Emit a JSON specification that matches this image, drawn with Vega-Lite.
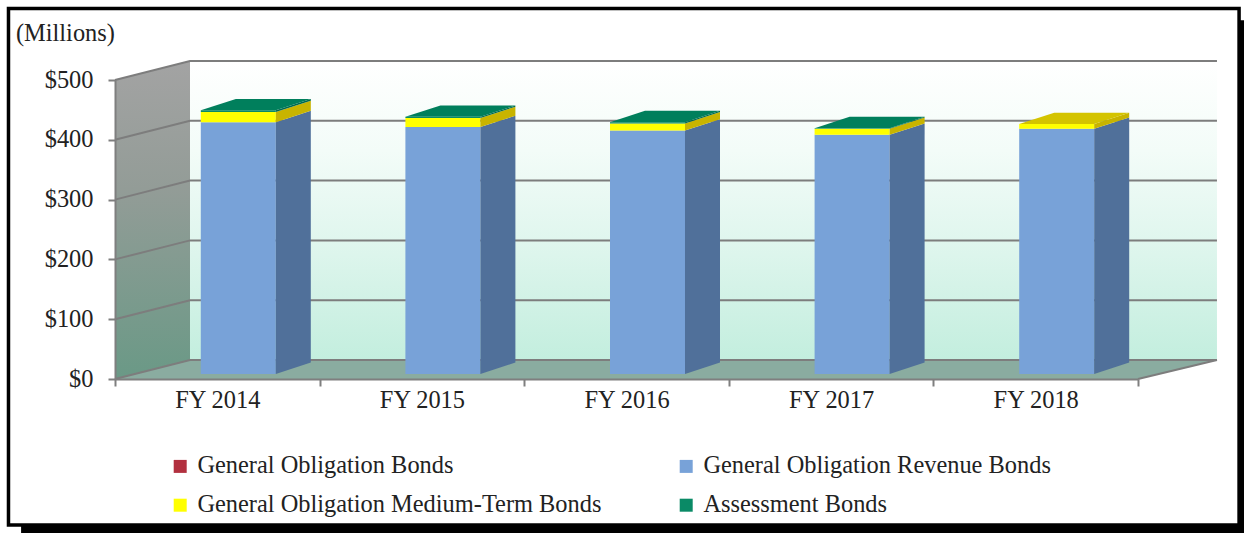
{
"$schema":"https://vega.github.io/schema/vega-lite/v6.json",
"width":1023,"height":299,
"autosize":{"type":"none"},
"padding":{"left":115,"top":80,"right":106,"bottom":154},
"background":"white",
"config":{"view":{"stroke":null},"font":"Liberation Serif"},
"datasets":{
"bonds":[
{"fy":"FY 2014","series":"General Obligation Bonds","rank":1,"value":0},
{"fy":"FY 2014","series":"General Obligation Revenue Bonds","rank":2,"value":421},
{"fy":"FY 2014","series":"General Obligation Medium-Term Bonds","rank":3,"value":17},
{"fy":"FY 2014","series":"Assessment Bonds","rank":4,"value":3},
{"fy":"FY 2015","series":"General Obligation Bonds","rank":1,"value":0},
{"fy":"FY 2015","series":"General Obligation Revenue Bonds","rank":2,"value":413},
{"fy":"FY 2015","series":"General Obligation Medium-Term Bonds","rank":3,"value":15},
{"fy":"FY 2015","series":"Assessment Bonds","rank":4,"value":2},
{"fy":"FY 2016","series":"General Obligation Bonds","rank":1,"value":0},
{"fy":"FY 2016","series":"General Obligation Revenue Bonds","rank":2,"value":407},
{"fy":"FY 2016","series":"General Obligation Medium-Term Bonds","rank":3,"value":12},
{"fy":"FY 2016","series":"Assessment Bonds","rank":4,"value":2},
{"fy":"FY 2017","series":"General Obligation Bonds","rank":1,"value":0},
{"fy":"FY 2017","series":"General Obligation Revenue Bonds","rank":2,"value":400},
{"fy":"FY 2017","series":"General Obligation Medium-Term Bonds","rank":3,"value":10},
{"fy":"FY 2017","series":"Assessment Bonds","rank":4,"value":1},
{"fy":"FY 2018","series":"General Obligation Bonds","rank":1,"value":0},
{"fy":"FY 2018","series":"General Obligation Revenue Bonds","rank":2,"value":410},
{"fy":"FY 2018","series":"General Obligation Medium-Term Bonds","rank":3,"value":8},
{"fy":"FY 2018","series":"Assessment Bonds","rank":4,"value":0}
],
"sides":[
{"fy":"FY 2014","series":"Revenue","pos":0.7859,"low":8.4,"high":429.4},{"fy":"FY 2014","series":"Revenue","pos":0.957,"low":27.4,"high":448.4},
{"fy":"FY 2014","series":"Medium","pos":0.7859,"low":429.4,"high":446.4},{"fy":"FY 2014","series":"Medium","pos":0.957,"low":448.4,"high":465.4},
{"fy":"FY 2014","series":"Assessment","pos":0.7859,"low":446.4,"high":449.4},{"fy":"FY 2014","series":"Assessment","pos":0.957,"low":465.4,"high":468.4},
{"fy":"FY 2015","series":"Revenue","pos":1.7859,"low":8.4,"high":421.4},{"fy":"FY 2015","series":"Revenue","pos":1.957,"low":27.4,"high":440.4},
{"fy":"FY 2015","series":"Medium","pos":1.7859,"low":421.4,"high":436.4},{"fy":"FY 2015","series":"Medium","pos":1.957,"low":440.4,"high":455.4},
{"fy":"FY 2015","series":"Assessment","pos":1.7859,"low":436.4,"high":438.4},{"fy":"FY 2015","series":"Assessment","pos":1.957,"low":455.4,"high":457.4},
{"fy":"FY 2016","series":"Revenue","pos":2.7859,"low":8.4,"high":415.4},{"fy":"FY 2016","series":"Revenue","pos":2.957,"low":27.4,"high":434.4},
{"fy":"FY 2016","series":"Medium","pos":2.7859,"low":415.4,"high":427.4},{"fy":"FY 2016","series":"Medium","pos":2.957,"low":434.4,"high":446.4},
{"fy":"FY 2016","series":"Assessment","pos":2.7859,"low":427.4,"high":429.4},{"fy":"FY 2016","series":"Assessment","pos":2.957,"low":446.4,"high":448.4},
{"fy":"FY 2017","series":"Revenue","pos":3.7859,"low":8.4,"high":408.4},{"fy":"FY 2017","series":"Revenue","pos":3.957,"low":27.4,"high":427.4},
{"fy":"FY 2017","series":"Medium","pos":3.7859,"low":408.4,"high":418.4},{"fy":"FY 2017","series":"Medium","pos":3.957,"low":427.4,"high":437.4},
{"fy":"FY 2017","series":"Assessment","pos":3.7859,"low":418.4,"high":419.4},{"fy":"FY 2017","series":"Assessment","pos":3.957,"low":437.4,"high":438.4},
{"fy":"FY 2018","series":"Revenue","pos":4.7859,"low":8.4,"high":418.4},{"fy":"FY 2018","series":"Revenue","pos":4.957,"low":27.4,"high":437.4},
{"fy":"FY 2018","series":"Medium","pos":4.7859,"low":418.4,"high":426.4},{"fy":"FY 2018","series":"Medium","pos":4.957,"low":437.4,"high":445.4}
],
"tops":[
{"fy":"FY 2014","series":"Assessment","pos":0.4194,"low":449.4,"high":449.4},{"fy":"FY 2014","series":"Assessment","pos":0.5905,"low":449.4,"high":468.4},{"fy":"FY 2014","series":"Assessment","pos":0.7859,"low":449.4,"high":468.4},{"fy":"FY 2014","series":"Assessment","pos":0.957,"low":468.4,"high":468.4},
{"fy":"FY 2015","series":"Assessment","pos":1.4194,"low":438.4,"high":438.4},{"fy":"FY 2015","series":"Assessment","pos":1.5905,"low":438.4,"high":457.4},{"fy":"FY 2015","series":"Assessment","pos":1.7859,"low":438.4,"high":457.4},{"fy":"FY 2015","series":"Assessment","pos":1.957,"low":457.4,"high":457.4},
{"fy":"FY 2016","series":"Assessment","pos":2.4194,"low":429.4,"high":429.4},{"fy":"FY 2016","series":"Assessment","pos":2.5905,"low":429.4,"high":448.4},{"fy":"FY 2016","series":"Assessment","pos":2.7859,"low":429.4,"high":448.4},{"fy":"FY 2016","series":"Assessment","pos":2.957,"low":448.4,"high":448.4},
{"fy":"FY 2017","series":"Assessment","pos":3.4194,"low":419.4,"high":419.4},{"fy":"FY 2017","series":"Assessment","pos":3.5905,"low":419.4,"high":438.4},{"fy":"FY 2017","series":"Assessment","pos":3.7859,"low":419.4,"high":438.4},{"fy":"FY 2017","series":"Assessment","pos":3.957,"low":438.4,"high":438.4},
{"fy":"FY 2018","series":"Medium","pos":4.4194,"low":426.4,"high":426.4},{"fy":"FY 2018","series":"Medium","pos":4.5905,"low":426.4,"high":445.4},{"fy":"FY 2018","series":"Medium","pos":4.7859,"low":426.4,"high":445.4},{"fy":"FY 2018","series":"Medium","pos":4.957,"low":445.4,"high":445.4}
],
"grid":[
{"tick":0,"pos":0,"level":0},{"tick":0,"pos":0.3666,"level":31.8},{"tick":0,"pos":5.386,"level":31.8},
{"tick":100,"pos":0,"level":100},{"tick":100,"pos":0.3666,"level":131.8},{"tick":100,"pos":5.386,"level":131.8},
{"tick":200,"pos":0,"level":200},{"tick":200,"pos":0.3666,"level":231.8},{"tick":200,"pos":5.386,"level":231.8},
{"tick":300,"pos":0,"level":300},{"tick":300,"pos":0.3666,"level":331.8},{"tick":300,"pos":5.386,"level":331.8},
{"tick":400,"pos":0,"level":400},{"tick":400,"pos":0.3666,"level":431.8},{"tick":400,"pos":5.386,"level":431.8},
{"tick":500,"pos":0,"level":500},{"tick":500,"pos":0.3666,"level":531.8},{"tick":500,"pos":5.386,"level":531.8},
{"tick":-1,"pos":5,"level":0},{"tick":-1,"pos":5.386,"level":31.8}
]
},
"layer":[
{"data":{"values":[{"a":-0.459,"b":5.6,"low":-269,"high":600}]},
 "mark":{"type":"rect","color":"black"},
 "encoding":{"x":{"field":"a","type":"quantitative","axis":null,"scale":{"domain":[0,5],"nice":false,"zero":false}},"x2":{"field":"b"},
 "y":{"field":"low","type":"quantitative","title":null,"scale":{"domain":[0,500],"nice":false},
  "axis":{"values":[0,100,200,300,400,500],"format":"$d","labelFont":"Liberation Serif","labelFontSize":24.4,"labelColor":"#222222","labelPadding":15,"tickSize":7,"tickColor":"#7f7f7f","tickWidth":2,"domainColor":"#7f7f7f","domainWidth":2,"grid":false,"zindex":1,"title":null}},
 "y2":{"field":"high"}}},
{"data":{"values":[{"a":-0.5206,"b":5.494,"low":-244,"high":619.6}]},
 "mark":{"type":"rect","fill":"white","stroke":"black","strokeWidth":3.5},
 "encoding":{"x":{"field":"a","type":"quantitative","axis":null,"scale":{"domain":[0,5],"nice":false,"zero":false}},"x2":{"field":"b"},
 "y":{"field":"low","type":"quantitative","title":null},"y2":{"field":"high"}}},
{"data":{"values":[{"label":"(Millions)","pos":-0.484,"level":577}]},
 "mark":{"type":"text","align":"left","baseline":"middle","font":"Liberation Serif","fontSize":24.4,"color":"#222222"},
 "encoding":{"x":{"field":"pos","type":"quantitative","axis":null,"scale":{"domain":[0,5],"nice":false,"zero":false}},
 "y":{"field":"level","type":"quantitative","title":null},"text":{"field":"label"}}},
{"data":{"values":[{"pos":0.3666,"low":31.8,"high":531.8},{"pos":5.386,"low":31.8,"high":531.8}]},
 "mark":{"type":"area","line":false,"color":{"gradient":"linear","x1":0,"y1":0,"x2":0,"y2":1,"stops":[{"offset":0,"color":"#ffffff"},{"offset":0.3,"color":"#f3fcf8"},{"offset":0.6,"color":"#e0f6ee"},{"offset":1,"color":"#c3eede"}]}},
 "encoding":{"x":{"field":"pos","type":"quantitative","axis":null,"scale":{"domain":[0,5],"nice":false,"zero":false}},
 "y":{"field":"low","type":"quantitative","title":null,"stack":null},"y2":{"field":"high"}}},
{"data":{"values":[{"pos":0,"low":0,"high":500},{"pos":0.3666,"low":31.8,"high":531.8}]},
 "mark":{"type":"area","line":false,"color":{"gradient":"linear","x1":0,"y1":0,"x2":0,"y2":1,"stops":[{"offset":0,"color":"#a3a3a3"},{"offset":0.4,"color":"#939c97"},{"offset":1,"color":"#6a9986"}]}},
 "encoding":{"x":{"field":"pos","type":"quantitative","axis":null,"scale":{"domain":[0,5],"nice":false,"zero":false}},
 "y":{"field":"low","type":"quantitative","title":null,"stack":null},"y2":{"field":"high"}}},
{"data":{"values":[{"pos":0,"low":0,"high":0},{"pos":0.3666,"low":0,"high":31.8},{"pos":5,"low":0,"high":31.8},{"pos":5.386,"low":31.8,"high":31.8}]},
 "mark":{"type":"area","line":false,"color":"#8aaca0"},
 "encoding":{"x":{"field":"pos","type":"quantitative","axis":null,"scale":{"domain":[0,5],"nice":false,"zero":false}},
 "y":{"field":"low","type":"quantitative","title":null,"stack":null},"y2":{"field":"high"}}},
{"data":{"name":"grid"},
 "mark":{"type":"line","color":"#7d7d7d","strokeWidth":2},
 "encoding":{"x":{"field":"pos","type":"quantitative","axis":null,"sort":null,"scale":{"domain":[0,5],"nice":false,"zero":false}},
 "y":{"field":"level","type":"quantitative","title":null},"detail":{"field":"tick"}}},
{"data":{"name":"bonds"},
 "mark":{"type":"bar","size":75,"xOffset":21,"yOffset":-5,"y2Offset":-5},
 "encoding":{"x":{"field":"fy","type":"nominal","title":null,"scale":{"paddingInner":0,"paddingOuter":0},
  "axis":{"tickBand":"extent","labelAngle":0,"labelFont":"Liberation Serif","labelFontSize":24.4,"labelColor":"#222222","labelPadding":2,"tickSize":7,"tickColor":"#7f7f7f","tickWidth":2,"domainColor":"#7f7f7f","domainWidth":2,"grid":false,"zindex":1,"title":null}},
 "y":{"field":"value","type":"quantitative","title":null,"stack":"zero"},
 "order":{"field":"rank"},
 "color":{"field":"series","type":"nominal","title":null,
  "scale":{"domain":["General Obligation Bonds","General Obligation Medium-Term Bonds","General Obligation Revenue Bonds","Assessment Bonds"],"range":["#b2303f","#ffff00","#78a2d8","#0a8a66"]},
  "legend":{"orient":"none","legendX":53,"legendY":374,"columns":2,"symbolType":"square","symbolSize":169,"symbolStrokeWidth":0,"labelFont":"Liberation Serif","labelFontSize":24.4,"labelColor":"#222222","labelOffset":5,"rowPadding":14,"columnPadding":72,"labelLimit":500,"title":null}}}},
{"data":{"name":"sides"},
 "mark":{"type":"area","line":false},
 "encoding":{"x":{"field":"pos","type":"quantitative","axis":null,"scale":{"domain":[0,5],"nice":false,"zero":false}},
 "y":{"field":"low","type":"quantitative","title":null,"stack":null},"y2":{"field":"high"},
 "detail":{"field":"fy"},
 "color":{"field":"series","type":"nominal","legend":null,"scale":{"domain":["Revenue","Medium","Assessment"],"range":["#50709a","#c8b400","#006a50"]}}}},
{"data":{"name":"tops"},
 "mark":{"type":"area","line":false},
 "encoding":{"x":{"field":"pos","type":"quantitative","axis":null,"scale":{"domain":[0,5],"nice":false,"zero":false}},
 "y":{"field":"low","type":"quantitative","title":null,"stack":null},"y2":{"field":"high"},
 "detail":{"field":"fy"},
 "color":{"field":"series","type":"nominal","legend":null,"scale":{"domain":["Medium","Assessment"],"range":["#d4c400","#007f5c"]}}}}
],
"resolve":{"scale":{"x":"independent","color":"independent"},"axis":{"x":"independent"}}
}
